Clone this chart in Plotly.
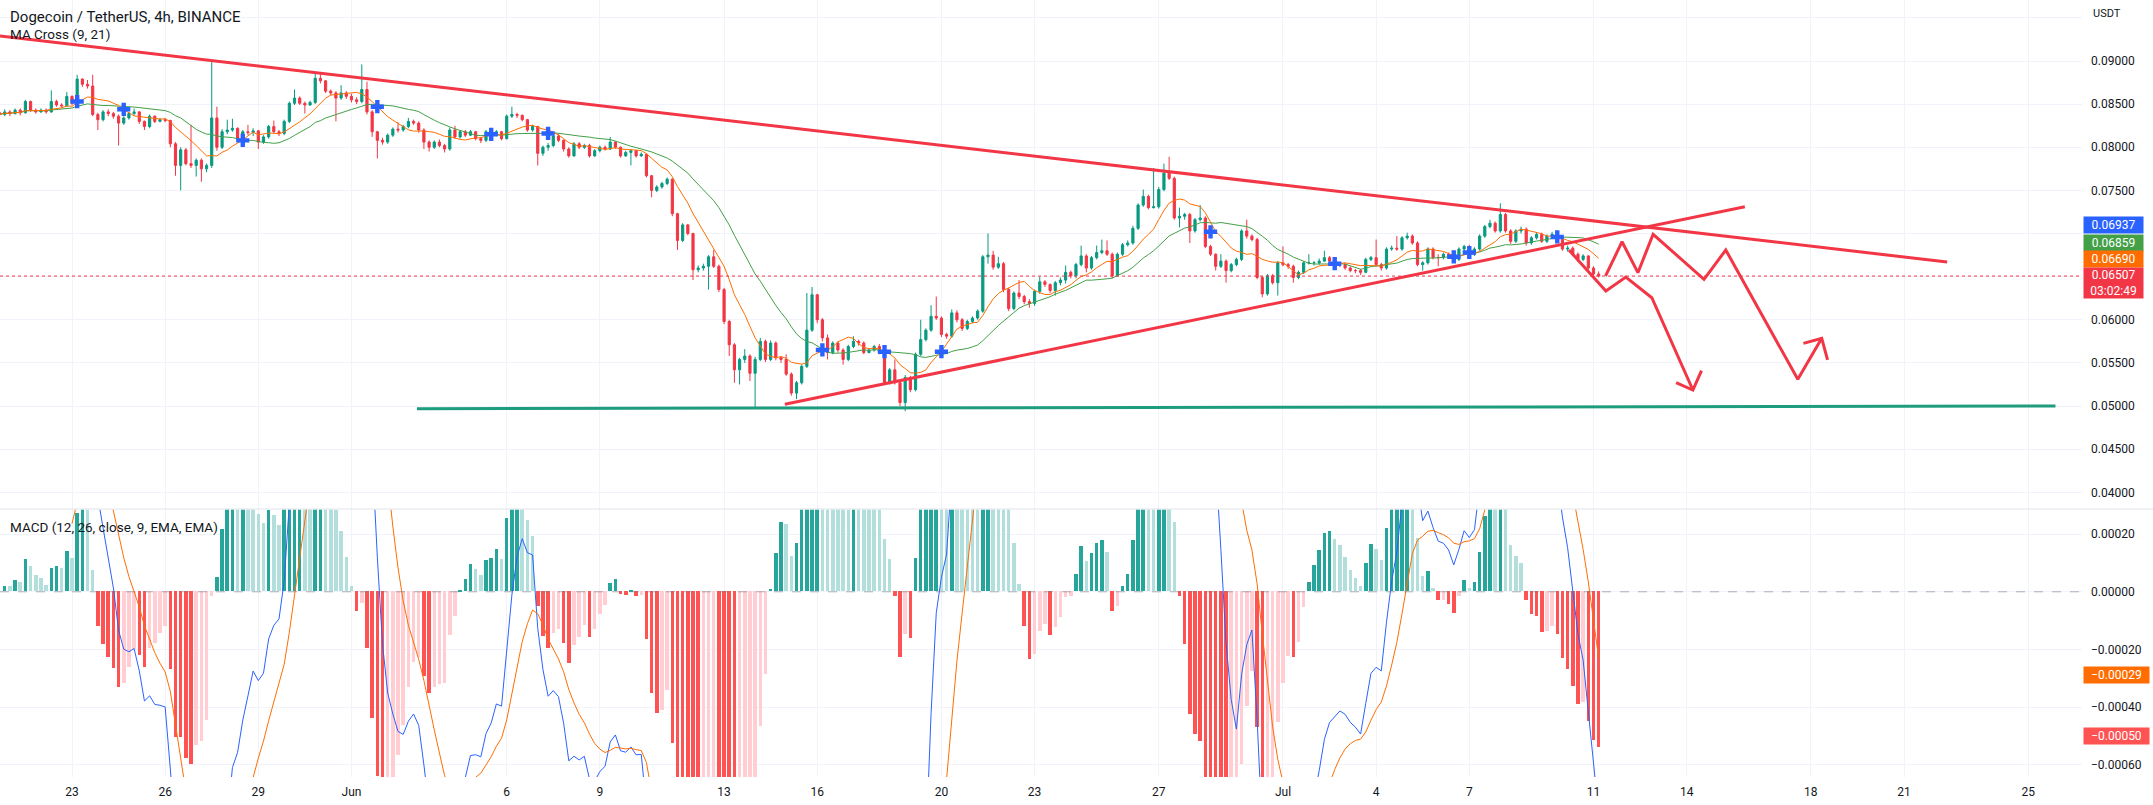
import numpy as np
import pandas as pd
import plotly.graph_objects as go

# 4h candles, BINANCE DOGEUSDT (open = previous close)
start = '2023-05-20 16:00'
first_open = 0.0840
close = [
    0.0838, 0.0841, 0.0839, 0.0843, 0.0840, 0.0853, 0.0843, 0.0841, 0.0843, 0.0841, 0.0853, 0.0849, 0.0848, 0.0859,
    0.0851, 0.0879, 0.0873, 0.0871, 0.0838, 0.0832, 0.0841, 0.0839, 0.0836, 0.0828, 0.0834, 0.0839, 0.0841, 0.0830,
    0.0824, 0.0836, 0.0830, 0.0832, 0.0831, 0.0804, 0.0779, 0.0797, 0.0781, 0.0779, 0.0785, 0.0775, 0.0779, 0.0834,
    0.0800, 0.0818, 0.0820, 0.0822, 0.0810, 0.0818, 0.0817, 0.0819, 0.0806, 0.0812, 0.0824, 0.0818, 0.0816, 0.0830,
    0.0851, 0.0857, 0.0851, 0.0849, 0.0852, 0.0880, 0.0877, 0.0865, 0.0863, 0.0857, 0.0863, 0.0859, 0.0855, 0.0853,
    0.0867, 0.0841, 0.0818, 0.0808, 0.0806, 0.0814, 0.0821, 0.0820, 0.0824, 0.0830, 0.0828, 0.0820, 0.0806, 0.0800,
    0.0806, 0.0802, 0.0798, 0.0820, 0.0812, 0.0818, 0.0814, 0.0818, 0.0810, 0.0808, 0.0818, 0.0814, 0.0818, 0.0810,
    0.0836, 0.0838, 0.0837, 0.0832, 0.0820, 0.0824, 0.0793,
    0.0800, 0.0802, 0.0813, 0.0808, 0.0798, 0.0790, 0.0804, 0.0800, 0.0802, 0.0790, 0.0796, 0.0800, 0.0798, 0.0806,
    0.0800, 0.0790, 0.0794, 0.0796, 0.0790, 0.0792, 0.0767, 0.0750, 0.0754, 0.0758, 0.0763, 0.0723, 0.0692, 0.0710,
    0.0700, 0.0658, 0.0660, 0.0662, 0.0673, 0.0662, 0.0635, 0.0598, 0.0571, 0.0542, 0.0554, 0.0558, 0.0538, 0.0554,
    0.0575, 0.0554, 0.0573, 0.0556, 0.0554, 0.0537, 0.0515, 0.0527, 0.0546, 0.0588, 0.0629, 0.0600, 0.0579, 0.0562,
    0.0573, 0.0565, 0.0554, 0.0569, 0.0575, 0.0573, 0.0562, 0.0565, 0.0569, 0.0562, 0.0527, 0.0542, 0.0527, 0.0504,
    0.0533, 0.0519, 0.0560, 0.0577, 0.0588, 0.0604, 0.0602, 0.0583, 0.0581, 0.0608, 0.0600, 0.0590, 0.0598, 0.0602,
    0.0610, 0.0673, 0.0675, 0.0661, 0.0665, 0.0635, 0.0613, 0.0631, 0.0627, 0.0621, 0.0619, 0.0633, 0.0644, 0.0641,
    0.0634, 0.0643, 0.0646, 0.0655, 0.0651,
    0.0664, 0.0674, 0.0660, 0.0672, 0.0678, 0.0680, 0.0676, 0.0651, 0.0676, 0.0687, 0.0689, 0.0706, 0.0733, 0.0743,
    0.0730, 0.0731, 0.0751, 0.0770, 0.0764, 0.0718, 0.0720, 0.0722, 0.0703, 0.0716, 0.0718, 0.0685, 0.0676, 0.0662,
    0.0668, 0.0657, 0.0664, 0.0670, 0.0703, 0.0697, 0.0693, 0.0649, 0.0630, 0.0651, 0.0643, 0.0666, 0.0664, 0.0662,
    0.0649, 0.0655, 0.0666, 0.0666, 0.0666, 0.0668, 0.0672, 0.0668, 0.0664, 0.0664, 0.0660, 0.0657, 0.0657, 0.0655,
    0.0670, 0.0672, 0.0664, 0.0660, 0.0682, 0.0683, 0.0682, 0.0695, 0.0697, 0.0689, 0.0664, 0.0666, 0.0682, 0.0672,
    0.0672, 0.0676, 0.0674, 0.0670, 0.0682, 0.0685, 0.0676, 0.0682, 0.0697, 0.0708, 0.0712, 0.0703, 0.0722, 0.0703,
    0.0691, 0.0703, 0.0705, 0.0689, 0.0695, 0.0699, 0.0691, 0.0697, 0.0699, 0.0693, 0.0682, 0.0683, 0.0676, 0.0670,
    0.0674, 0.0660, 0.0653, 0.06507,
]
high = [
    0.0843, 0.0844, 0.0843, 0.0845, 0.0845, 0.0855, 0.0854, 0.0845, 0.0845, 0.0845, 0.0866, 0.0855, 0.0851, 0.0864,
    0.0860, 0.0884, 0.0880, 0.0878, 0.0884, 0.0840, 0.0843, 0.0844, 0.0841, 0.0838, 0.0836, 0.0841, 0.0845, 0.0842,
    0.0831, 0.0838, 0.0837, 0.0834, 0.0834, 0.0832, 0.0806, 0.0800, 0.0799, 0.0826, 0.0787, 0.0787, 0.0781, 0.0900,
    0.0847, 0.0821, 0.0832, 0.0833, 0.0823, 0.0820, 0.0826, 0.0822, 0.0820, 0.0814, 0.0826, 0.0831, 0.0820, 0.0832,
    0.0853, 0.0867, 0.0859, 0.0853, 0.0854, 0.0886, 0.0886, 0.0878, 0.0867, 0.0865, 0.0872, 0.0865, 0.0862, 0.0858,
    0.0896, 0.0876, 0.0843, 0.0819, 0.0811, 0.0816, 0.0823, 0.0829, 0.0826, 0.0834, 0.0832, 0.0830, 0.0822, 0.0808,
    0.0808, 0.0809, 0.0804, 0.0823, 0.0825, 0.0820, 0.0820, 0.0820, 0.0819, 0.0812, 0.0820, 0.0819, 0.0820, 0.0819,
    0.0838, 0.0847, 0.0840, 0.0838, 0.0833, 0.0826, 0.0825,
    0.0802, 0.0805, 0.0815, 0.0815, 0.0809, 0.0800, 0.0806, 0.0806, 0.0804, 0.0804, 0.0798, 0.0802, 0.0802, 0.0812,
    0.0807, 0.0801, 0.0796, 0.0798, 0.0797, 0.0794, 0.0792, 0.0768, 0.0756, 0.0760, 0.0765, 0.0764, 0.0724, 0.0712,
    0.0711, 0.0701, 0.0663, 0.0665, 0.0675, 0.0681, 0.0664, 0.0637, 0.0600, 0.0573, 0.0556, 0.0566, 0.0560, 0.0557,
    0.0579, 0.0577, 0.0576, 0.0575, 0.0558, 0.0560, 0.0539, 0.0529, 0.0548, 0.0631, 0.0638, 0.0630, 0.0602, 0.0583,
    0.0575, 0.0575, 0.0567, 0.0571, 0.0581, 0.0577, 0.0575, 0.0567, 0.0571, 0.0572, 0.0565, 0.0544, 0.0554, 0.0529,
    0.0536, 0.0535, 0.0562, 0.0600, 0.0590, 0.0617, 0.0627, 0.0604, 0.0585, 0.0612, 0.0611, 0.0602, 0.0600, 0.0604,
    0.0612, 0.0675, 0.0700, 0.0680, 0.0673, 0.0667, 0.0637, 0.0633, 0.0646, 0.0629, 0.0624, 0.0635, 0.0650, 0.0646,
    0.0642, 0.0645, 0.0649, 0.0663, 0.0657,
    0.0666, 0.0686, 0.0676, 0.0674, 0.0686, 0.0693, 0.0692, 0.0678, 0.0678, 0.0689, 0.0692, 0.0709, 0.0735, 0.0751,
    0.0745, 0.0776, 0.0754, 0.0781, 0.0789, 0.0766, 0.0730, 0.0724, 0.0724, 0.0718, 0.0733, 0.0720, 0.0687, 0.0677,
    0.0676, 0.0670, 0.0666, 0.0672, 0.0705, 0.0716, 0.0699, 0.0695, 0.0651, 0.0653, 0.0653, 0.0668, 0.0685, 0.0666,
    0.0664, 0.0657, 0.0668, 0.0676, 0.0668, 0.0671, 0.0680, 0.0674, 0.0670, 0.0667, 0.0666, 0.0662, 0.0659, 0.0659,
    0.0672, 0.0674, 0.0693, 0.0666, 0.0684, 0.0686, 0.0697, 0.0697, 0.0701, 0.0699, 0.0691, 0.0668, 0.0684, 0.0684,
    0.0676, 0.0678, 0.0678, 0.0676, 0.0684, 0.0687, 0.0687, 0.0684, 0.0699, 0.0710, 0.0716, 0.0714, 0.0735, 0.0724,
    0.0705, 0.0705, 0.0708, 0.0707, 0.0697, 0.0701, 0.0701, 0.0699, 0.0702, 0.0701, 0.0695, 0.0686, 0.0685, 0.0678,
    0.0676, 0.0675, 0.0662, 0.0656,
]
low = [
    0.0835, 0.0836, 0.0836, 0.0838, 0.0837, 0.0839, 0.0841, 0.0839, 0.0840, 0.0839, 0.0840, 0.0847, 0.0846, 0.0847,
    0.0849, 0.0850, 0.0870, 0.0868, 0.0836, 0.0820, 0.0830, 0.0836, 0.0833, 0.0802, 0.0826, 0.0832, 0.0837, 0.0827,
    0.0820, 0.0822, 0.0828, 0.0829, 0.0829, 0.0800, 0.0767, 0.0750, 0.0779, 0.0776, 0.0766, 0.0760, 0.0771, 0.0776,
    0.0796, 0.0798, 0.0815, 0.0818, 0.0807, 0.0808, 0.0814, 0.0813, 0.0798, 0.0804, 0.0810, 0.0816, 0.0813, 0.0814,
    0.0828, 0.0849, 0.0849, 0.0839, 0.0848, 0.0850, 0.0874, 0.0863, 0.0860, 0.0830, 0.0855, 0.0856, 0.0852, 0.0850,
    0.0851, 0.0838, 0.0812, 0.0787, 0.0803, 0.0804, 0.0812, 0.0817, 0.0818, 0.0822, 0.0826, 0.0817, 0.0798, 0.0795,
    0.0798, 0.0800, 0.0794, 0.0796, 0.0810, 0.0810, 0.0812, 0.0813, 0.0808, 0.0805, 0.0806, 0.0812, 0.0813, 0.0808,
    0.0809, 0.0834, 0.0834, 0.0830, 0.0818, 0.0818, 0.0779,
    0.0790, 0.0796, 0.0800, 0.0806, 0.0795, 0.0788, 0.0789, 0.0798, 0.0798, 0.0788, 0.0789, 0.0794, 0.0796, 0.0797,
    0.0798, 0.0788, 0.0789, 0.0779, 0.0788, 0.0789, 0.0765, 0.0742, 0.0748, 0.0752, 0.0756, 0.0720, 0.0681, 0.0690,
    0.0698, 0.0646, 0.0655, 0.0657, 0.0635, 0.0660, 0.0632, 0.0595, 0.0558, 0.0527, 0.0525, 0.0550, 0.0529, 0.0498,
    0.0552, 0.0551, 0.0552, 0.0553, 0.0550, 0.0535, 0.0512, 0.0508, 0.0525, 0.0544, 0.0586, 0.0596, 0.0575, 0.0554,
    0.0560, 0.0562, 0.0548, 0.0552, 0.0567, 0.0570, 0.0560, 0.0561, 0.0563, 0.0560, 0.0525, 0.0525, 0.0525, 0.0500,
    0.0494, 0.0516, 0.0517, 0.0558, 0.0575, 0.0586, 0.0600, 0.0580, 0.0578, 0.0579, 0.0597, 0.0587, 0.0588, 0.0596,
    0.0600, 0.0608, 0.0665, 0.0658, 0.0659, 0.0632, 0.0610, 0.0611, 0.0624, 0.0618, 0.0614, 0.0616, 0.0630, 0.0638,
    0.0631, 0.0628, 0.0640, 0.0642, 0.0648,
    0.0648, 0.0662, 0.0655, 0.0658, 0.0670, 0.0676, 0.0674, 0.0648, 0.0650, 0.0674, 0.0685, 0.0687, 0.0704, 0.0731,
    0.0728, 0.0729, 0.0729, 0.0749, 0.0762, 0.0716, 0.0707, 0.0716, 0.0689, 0.0701, 0.0714, 0.0683, 0.0674, 0.0657,
    0.0660, 0.0643, 0.0655, 0.0662, 0.0668, 0.0694, 0.0691, 0.0647, 0.0626, 0.0628, 0.0641, 0.0628, 0.0662, 0.0659,
    0.0643, 0.0647, 0.0653, 0.0664, 0.0663, 0.0664, 0.0667, 0.0666, 0.0662, 0.0661, 0.0658, 0.0655, 0.0654, 0.0652,
    0.0654, 0.0668, 0.0662, 0.0657, 0.0658, 0.0680, 0.0680, 0.0680, 0.0693, 0.0687, 0.0662, 0.0657, 0.0664, 0.0670,
    0.0662, 0.0670, 0.0672, 0.0668, 0.0668, 0.0680, 0.0674, 0.0674, 0.0680, 0.0695, 0.0706, 0.0701, 0.0701, 0.0701,
    0.0688, 0.0689, 0.0700, 0.0686, 0.0687, 0.0693, 0.0689, 0.0689, 0.0695, 0.0690, 0.0680, 0.0679, 0.0674, 0.0667,
    0.0668, 0.0658, 0.0650, 0.0649,
]

# blue MA-cross markers as they appear on the chart
cross_x = ['2023-05-23 04:00', '2023-05-24 16:00', '2023-05-28 12:00', '2023-06-01 20:00', '2023-06-05 12:00',
           '2023-06-07 08:00', '2023-06-16 04:00', '2023-06-18 04:00', '2023-06-20 00:00', '2023-06-28 16:00',
           '2023-07-02 16:00', '2023-07-06 12:00', '2023-07-07 00:00', '2023-07-09 20:00']
cross_y = [0.0853, 0.0844, 0.0808, 0.0847, 0.0815, 0.0816, 0.0565, 0.0563, 0.0563, 0.0702, 0.0665, 0.0673,
           0.0678, 0.0696]

# hand drawn lines on the chart
upper_x = ['2023-05-20 16:20', '2023-07-22 09:20']
upper_y = [0.0929, 0.0667]
rising_x = ['2023-06-14 23:00', '2023-07-15 21:00']
rising_y = [0.0502, 0.0731]
support_x = ['2023-06-03 02:40', '2023-07-25 21:05']
support_y = [0.0497, 0.0500]
path_a_x = ['2023-07-11 09:20', '2023-07-11 22:05', '2023-07-12 10:20', '2023-07-12 22:05',
            '2023-07-14 13:25', '2023-07-15 06:15', '2023-07-17 13:55', '2023-07-18 08:25']
path_a_y = [0.06508, 0.06905, 0.06546, 0.06991, 0.06469, 0.06809, 0.05310, 0.05785]
head_a_x = ['2023-07-17 18:15', '2023-07-18 08:25', '2023-07-18 12:55']
head_a_y = [0.05727, 0.05785, 0.05534]
path_b_x = ['2023-07-10 05:00', '2023-07-11 09:35', '2023-07-12 01:00', '2023-07-12 21:05', '2023-07-14 04:50']
path_b_y = [0.06809, 0.06333, 0.06495, 0.06256, 0.05186]
head_b_x = ['2023-07-13 15:50', '2023-07-14 04:50', '2023-07-14 11:30']
head_b_y = [0.05271, 0.05186, 0.05410]

tick_dates = ['2023-05-23', '2023-05-26', '2023-05-29', '2023-06-01', '2023-06-06', '2023-06-09', '2023-06-13',
              '2023-06-16', '2023-06-20', '2023-06-23', '2023-06-27', '2023-07-01', '2023-07-04', '2023-07-07',
              '2023-07-11', '2023-07-14', '2023-07-18', '2023-07-21', '2023-07-25']
tick_text = ['23', '26', '29', 'Jun', '6', '9', '13', '16', '20', '23', '27', 'Jul', '4', '7', '11', '14', '18', '21', '25']
price_ticks = [0.04, 0.045, 0.05, 0.055, 0.06, 0.065, 0.07, 0.075, 0.08, 0.085, 0.09, 0.095]
price_text = ['0.04000', '0.04500', '0.05000', '0.05500', '0.06000', '', '', '0.07500', '0.08000', '0.08500', '0.09000', '']
macd_ticks = [-0.0006, -0.0004, -0.0002, 0.0, 0.0002]
macd_text = ['\u22120.00060', '\u22120.00040', '\u22120.00020', '0.00000', '0.00020']

last_price = 0.06507
price_labels = [('0.06937', '#2962FF', 14), ('0.06859', '#43A047', 3), ('0.06690', '#FF6D00', 1)]
macd_labels = [('\u22120.00029', -0.00029, '#FF6D00'), ('\u22120.00050', -0.00050, '#FF5252')]

# ---- indicators
t = pd.date_range(start, periods=len(close), freq='4h')
c = pd.Series(close, index=t)
o = c.shift(1)
o.iloc[0] = first_open

ma9 = c.rolling(9, min_periods=1).mean()
ma21 = c.rolling(21, min_periods=1).mean()

ema12 = c.ewm(span=12, adjust=False).mean()
ema26 = c.ewm(span=26, adjust=False).mean()
macd = ema12 - ema26
signal = macd.ewm(span=9, adjust=False).mean()
hist = macd - signal
prev = hist.shift(1).fillna(0)
hist_col = np.where(hist >= 0, np.where(hist > prev, '#26A69A', '#B2DFDB'),
                    np.where(hist < prev, '#FF5252', '#FFCDD2'))
# no history before the first bar, so hide the EMA warm-up part of the lines
warm = 14
macd_line = macd.copy()
macd_line.iloc[:warm] = np.nan
signal_line = signal.copy()
signal_line.iloc[:warm] = np.nan

RED = '#F23645'
fig = go.Figure()
fig.add_trace(go.Candlestick(x=t, open=o, high=high, low=low, close=c,
                             increasing=dict(line=dict(color='#089981', width=1), fillcolor='#089981'),
                             decreasing=dict(line=dict(color=RED, width=1), fillcolor=RED),
                             whiskerwidth=0, hoverinfo='skip'))
fig.add_trace(go.Scatter(x=t, y=ma21, mode='lines', line=dict(color='#43A047', width=1)))
fig.add_trace(go.Scatter(x=t, y=ma9, mode='lines', line=dict(color='#FF6D00', width=1)))
fig.add_trace(go.Scatter(x=cross_x, y=cross_y, mode='markers',
                         marker=dict(symbol='cross', size=11, color='#2962FF', line=dict(width=0))))

fig.add_trace(go.Scatter(x=support_x, y=support_y, mode='lines', line=dict(color='#1E9C7E', width=3)))
fig.add_trace(go.Scatter(x=upper_x, y=upper_y, mode='lines', line=dict(color=RED, width=3)))
fig.add_trace(go.Scatter(x=rising_x, y=rising_y, mode='lines', line=dict(color=RED, width=3)))
for px, py in [(path_a_x, path_a_y), (head_a_x, head_a_y), (path_b_x, path_b_y), (head_b_x, head_b_y)]:
    fig.add_trace(go.Scatter(x=px, y=py, mode='lines', line=dict(color=RED, width=3)))

# MACD pane
fig.add_trace(go.Bar(x=t, y=hist, marker=dict(color=hist_col, line=dict(width=0)),
                     width=0.68 * 4 * 3600 * 1000, yaxis='y2'))
fig.add_trace(go.Scatter(x=t, y=macd_line, mode='lines', line=dict(color='#2962FF', width=1), yaxis='y2'))
fig.add_trace(go.Scatter(x=t, y=signal_line, mode='lines', line=dict(color='#FF6D00', width=1), yaxis='y2'))

H = 777.0  # plot area height in px
W = 2082.0
split = (H - 509) / H

grid = '#F0F3FA'
font = 'Roboto, Noto Sans, sans-serif'
fig.update_layout(
    width=2153, height=805, template='plotly_white',
    margin=dict(l=0, r=71, t=0, b=28),
    paper_bgcolor='white', plot_bgcolor='white',
    showlegend=False, boxgap=0.4, bargap=0,
    font=dict(family=font, size=12, color='#131722'),
    xaxis=dict(type='date', range=['2023-05-20 16:21', '2023-07-26 17:35'], anchor='y2',
               tickvals=tick_dates, ticktext=tick_text, showgrid=True, gridcolor=grid,
               zeroline=False, showline=False, ticks='', ticklen=0, rangeslider=dict(visible=False),
               automargin=False, ticklabelstandoff=6, tickfont=dict(size=12, color='#131722')),
    yaxis=dict(domain=[split, 1], range=[0.038064, 0.097072], side='right', anchor='x',
               tickvals=price_ticks, ticktext=price_text, showgrid=True, gridcolor=grid,
               zeroline=False, showline=False, ticks='', ticklen=0, automargin=False, ticklabelstandoff=8,
               tickfont=dict(size=12, color='#131722')),
    yaxis2=dict(domain=[0, split - 0.0005], range=[-0.000642, 0.0002856], side='right', anchor='x',
                tickvals=macd_ticks, ticktext=macd_text, showgrid=True, gridcolor=grid,
                zeroline=False, showline=False, ticks='', ticklen=0, automargin=False, ticklabelstandoff=8,
                tickfont=dict(size=12, color='#131722')),
)

fig.add_shape(type='line', xref='paper', yref='y', x0=0, x1=1, y0=last_price, y1=last_price,
              line=dict(color=RED, width=1, dash='dot'))
fig.add_shape(type='line', xref='paper', yref='y2', x0=0, x1=1, y0=0, y1=0,
              line=dict(color='rgba(120,123,134,0.6)', width=1, dash='dash'))
fig.add_shape(type='line', xref='paper', yref='paper', x0=0, x1=2153 / W, y0=split, y1=split,
              line=dict(color='#E0E3EB', width=1))


def px_y(y):
    return (H - y) / H


fig.add_annotation(x=8 / W, y=px_y(17), xref='paper', yref='paper', xanchor='left', yanchor='middle',
                   text='Dogecoin / TetherUS, 4h, BINANCE', showarrow=False, font=dict(size=15, color='#131722'))
fig.add_annotation(x=8 / W, y=px_y(34), xref='paper', yref='paper', xanchor='left', yanchor='middle',
                   text='MA Cross (9, 21)', showarrow=False, font=dict(size=13.5, color='#131722'))
fig.add_annotation(x=8 / W, y=px_y(527), xref='paper', yref='paper', xanchor='left', yanchor='middle',
                   text='MACD (12, 26, close, 9, EMA, EMA)', showarrow=False, font=dict(size=13.5, color='#131722'))
fig.add_annotation(x=1, y=px_y(13), xref='paper', yref='paper', xanchor='left', yanchor='middle', xshift=9,
                   text='USDT', showarrow=False, font=dict(size=11, color='#131722'))

for txt, col, shift in price_labels:
    fig.add_annotation(x=1, y=float(txt), xref='paper', yref='y', xanchor='left', yanchor='middle',
                       xshift=1, yshift=shift, text=txt, showarrow=False, bgcolor=col, width=57, height=14,
                       borderpad=1, align='center', font=dict(size=12, color='white'))
fig.add_annotation(x=1, y=last_price, xref='paper', yref='y', xanchor='left', yanchor='middle',
                   xshift=1, yshift=-7, text='0.06507<br>03:02:49', showarrow=False, bgcolor=RED,
                   width=57, height=28, borderpad=1, align='center', font=dict(size=12, color='white'))
for txt, val, col in macd_labels:
    fig.add_annotation(x=1, y=val, xref='paper', yref='y2', xanchor='left', yanchor='middle',
                       xshift=1, text=txt, showarrow=False, bgcolor=col, width=63, height=14,
                       borderpad=1, align='center', font=dict(size=12, color='white'))

fig.write_html('out.html', config={'displayModeBar': False},
               post_script="document.body.style.margin='0';")
